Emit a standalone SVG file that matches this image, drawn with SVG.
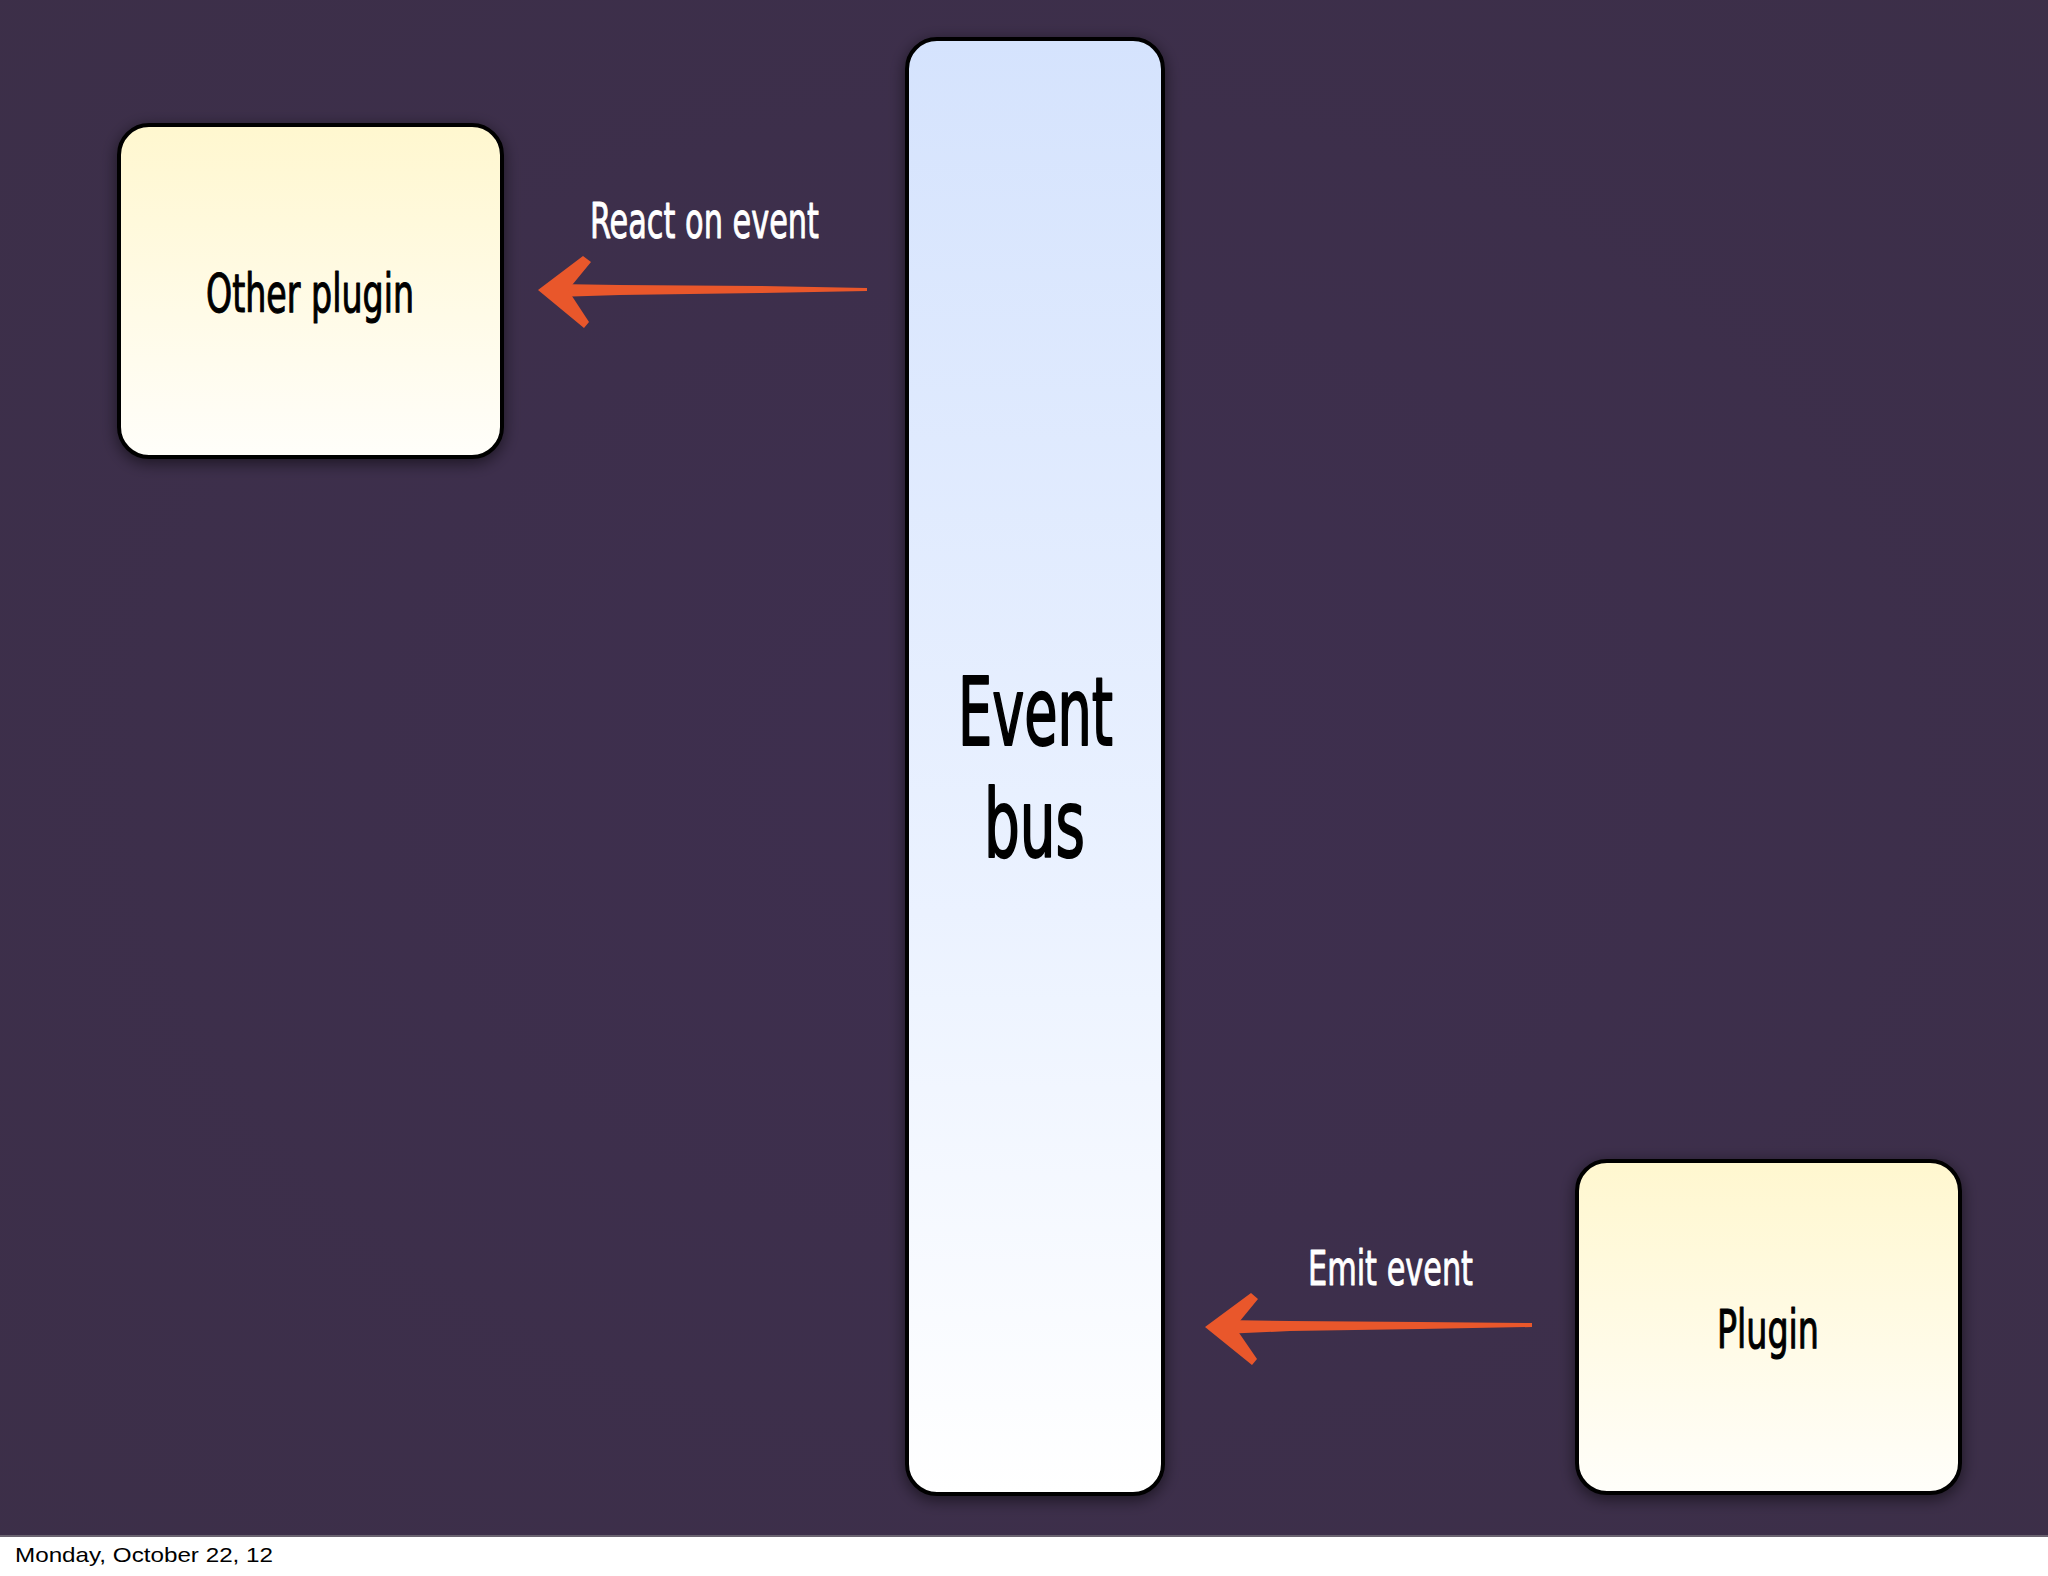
<svg xmlns="http://www.w3.org/2000/svg" width="2048" height="1576" viewBox="0 0 2048 1576">
<defs>
<linearGradient id="gYellow" x1="0" y1="0" x2="0" y2="1">
<stop offset="0" stop-color="#fff7cf"/>
<stop offset="1" stop-color="#fffefa"/>
</linearGradient>
<linearGradient id="gBlue" x1="0" y1="0" x2="0" y2="1">
<stop offset="0" stop-color="#d5e3fd"/>
<stop offset="0.6" stop-color="#ebf2ff"/>
<stop offset="1" stop-color="#ffffff"/>
</linearGradient>
<radialGradient id="gBg" cx="0.5" cy="0.5" r="0.75">
<stop offset="0" stop-color="#3e2f4f"/>
<stop offset="1" stop-color="#3c2f48"/>
</radialGradient>
<filter id="shadow" x="-20%" y="-20%" width="140%" height="140%">
<feDropShadow dx="0" dy="4" stdDeviation="8" flood-color="#000" flood-opacity="0.55"/>
</filter>
</defs>
<style>
.box{stroke:#000;stroke-width:4;filter:url(#shadow)}
.lbl{font-family:"DejaVu Sans Condensed","DejaVu Sans","Liberation Sans",sans-serif;font-stretch:condensed;text-anchor:start;stroke-linejoin:round}
.dark{fill:#000;stroke:#000;stroke-width:1.1}
.light{fill:#fff;stroke:#fff;stroke-width:0.9}
.big{stroke-width:2}
.arrow{fill:#e9572b}
.foot{font-family:"Liberation Sans",Arial,sans-serif;font-size:21px;fill:#000}
</style>
<rect x="0" y="0" width="2048" height="1576" fill="#ffffff"/>
<rect x="0" y="0" width="2048" height="1536" fill="url(#gBg)"/>
<rect x="0" y="1535" width="2048" height="2" fill="#6a6370"/>

<g id="connectors">
<g id="arrow-react">
<path class="arrow" d="M556,284 L620,285 L760,286 L867,288 L867,291 L760,293 L620,295 L556,297 Z"/>
<path class="arrow" d="M538,290 L583,256 L591,262 L568,290 L589,322 L584,328 Z"/>
</g>
<g id="arrow-emit">
<path class="arrow" d="M1223,1320 L1290,1321 L1420,1322 L1532,1323 L1532,1327 L1420,1329 L1290,1331 L1223,1334 Z"/>
<path class="arrow" d="M1205,1327 L1251,1293 L1258,1299 L1235,1327 L1257,1359 L1252,1365 Z"/>
</g>
</g>

<g id="node-other-plugin">
<rect class="box" x="119" y="125" width="383" height="332" rx="30" fill="url(#gYellow)"/>
<text class="lbl dark" x="206" y="312" font-size="54" textLength="208" lengthAdjust="spacingAndGlyphs">Other plugin</text>
</g>

<g id="node-event-bus">
<rect class="box" x="907" y="39" width="256" height="1455" rx="30" fill="url(#gBlue)"/>
<text class="lbl dark big" x="958" y="745" font-size="94" textLength="155" lengthAdjust="spacingAndGlyphs">Event</text>
<text class="lbl dark big" x="984" y="857" font-size="94" textLength="101" lengthAdjust="spacingAndGlyphs">bus</text>
</g>

<g id="node-plugin">
<rect class="box" x="1577" y="1161" width="383" height="332" rx="30" fill="url(#gYellow)"/>
<text class="lbl dark" x="1717" y="1348" font-size="54" textLength="102" lengthAdjust="spacingAndGlyphs">Plugin</text>
</g>

<g id="edge-labels">
<text class="lbl light" x="590" y="238" font-size="50" textLength="229" lengthAdjust="spacingAndGlyphs">React on event</text>
<text class="lbl light" x="1308" y="1285" font-size="48" textLength="165" lengthAdjust="spacingAndGlyphs">Emit event</text>
</g>

<text class="foot" x="15" y="1562" textLength="258" lengthAdjust="spacingAndGlyphs">Monday, October 22, 12</text>
</svg>
